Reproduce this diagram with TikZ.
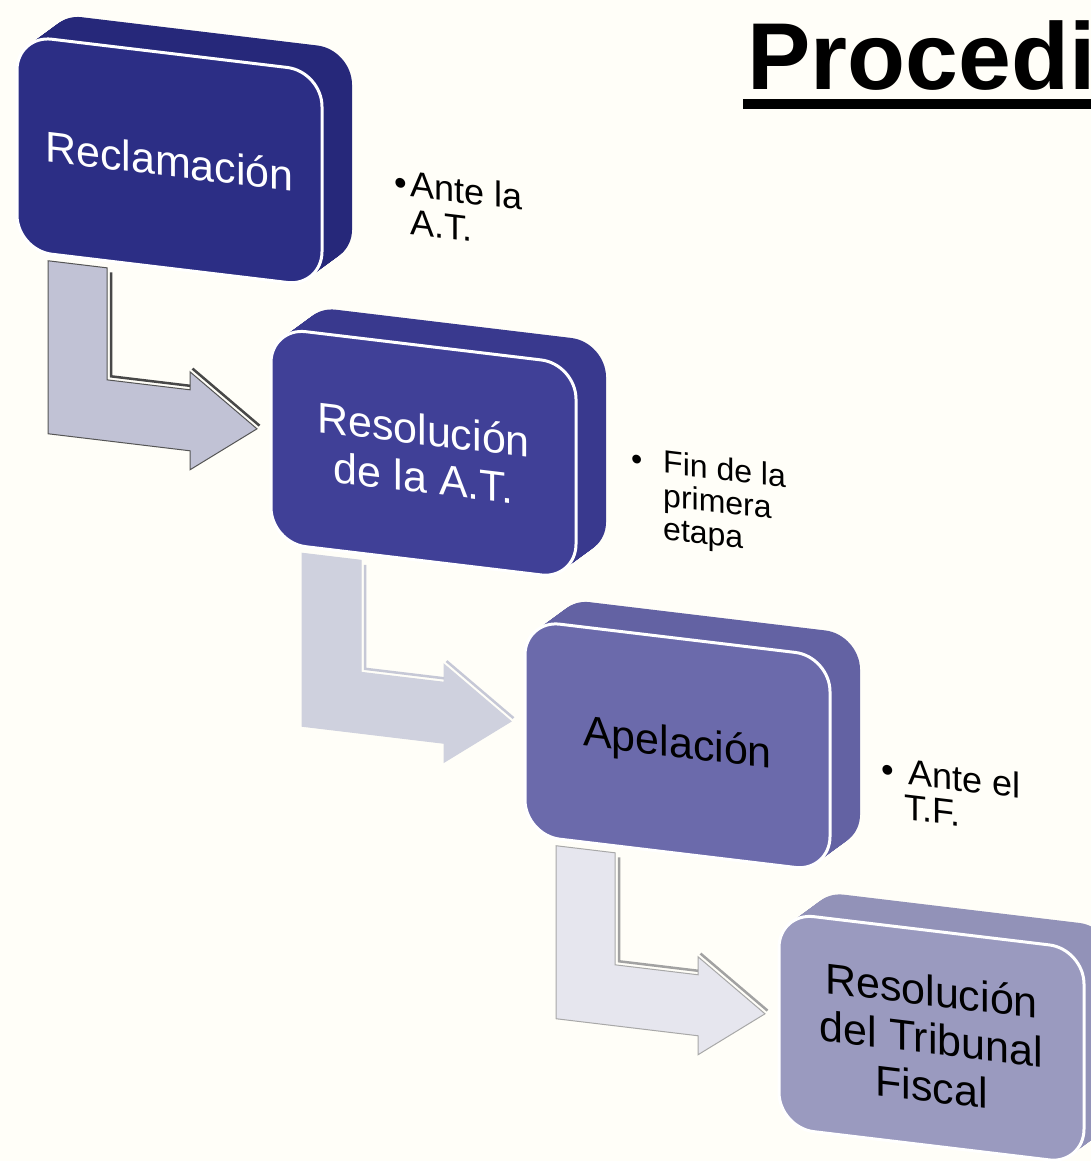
\documentclass[tikz,border=0pt]{standalone}
\usepackage{fontspec}
\setmainfont{Liberation Sans}
\definecolor{bg}{HTML}{FFFEF8}
\definecolor{f1}{HTML}{2C2E85}
\definecolor{s1}{HTML}{26287A}
\definecolor{f2}{HTML}{404097}
\definecolor{s2}{HTML}{39398E}
\definecolor{f3}{HTML}{6B6AAB}
\definecolor{s3}{HTML}{6362A3}
\definecolor{f4}{HTML}{9A9ABF}
\definecolor{s4}{HTML}{9292B8}
\definecolor{ar1}{HTML}{C1C2D5}
\definecolor{ar1o}{HTML}{555555}
\definecolor{ar1s}{HTML}{484848}
\definecolor{ar2}{HTML}{CFD1DE}
\definecolor{ar2s}{HTML}{C6C8D6}
\definecolor{ar3}{HTML}{E6E6EE}
\definecolor{ar3o}{HTML}{A8A8A8}
\definecolor{ar3s}{HTML}{A2A2A2}
\begin{document}
\begin{tikzpicture}[x=1pt,y=-1pt,
  face/.style={draw=white, line width=3pt, rounded corners=35pt,
    minimum width=305pt, minimum height=215pt, inner sep=0pt,
    align=center, font=\fontsize{43}{45}\selectfont, transform shape},
  sidelabel/.style={inner sep=0pt, anchor=base west, transform shape},
  shadowline/.style={line width=2.5pt}]
\useasboundingbox (0,0) rectangle (1091,1161);
\clip (0,0) rectangle (1091,1161);
\fill[bg] (0,0) rectangle (1091,1161);
\begin{scope}[yslant=-0.12]
  % bent arrows (drawn first, boxes cover their tails)
  \foreach \X/\Y/\fc/\oc/\sc [count=\i] in {17/33/ar1/ar1o/ar1s, 271/295/ar2/ar2/ar2s, 525/557/ar3/ar3o/ar3s} {
    \coordinate (t\i) at ({\X+60},{\Y+222});
    \coordinate (h\i) at ({\X+240},{\Y+365});
    \filldraw[fill=\fc, draw=\oc, line width=1pt]
      ({\X+31},{\Y+222}) -- ({\X+90},{\Y+222}) -- ({\X+90},{\Y+334})
      -- ({\X+173},{\Y+334}) -- ({\X+173},{\Y+316}) -- (h\i)
      -- ({\X+173},{\Y+414}) -- ({\X+173},{\Y+395}) -- ({\X+31},{\Y+395}) -- cycle;
    \draw[\sc, shadowline] ({\X+94},{\Y+226}) -- ({\X+94},{\Y+330}) -- ({\X+173},{\Y+330});
    \draw[\sc, shadowline] ({\X+175.5},{\Y+312.5}) -- ({\X+242.5},{\Y+361.5});
  }
  % 3D boxes
  \foreach \X/\Y/\fc/\sc/\tc/\txt [count=\i] in {
      17/33/f1/s1/white/{Reclamación},
      271/295/f2/s2/white/{Resolución\\[3pt]de la A.T.},
      525/557/f3/s3/black/{\raisebox{-6pt}{Apelación}},
      779/819/f4/s4/black/{Resolución\\[3pt]del Tribunal\\[3pt]Fiscal}} {
    \foreach \t in {1,...,30} {
      \fill[\sc, rounded corners=35pt] ({\X+\t},{\Y-0.853*\t}) rectangle ++(305,215);
    }
    \node[face, fill=\fc, text=\tc] (b\i) at ({\X+152.5},{\Y+107.5}) {\txt};
  }
  % side labels
  \node[sidelabel, font=\fontsize{36}{38}\selectfont] (l1) at (410,147.5)
    {\begin{tabular}[t]{@{}l@{}}\llap{•\hspace{3pt}}Ante la\\A.T.\end{tabular}};
  \node[sidelabel, font=\fontsize{32}{33}\selectfont] (l2) at (663,393.4)
    {\begin{tabular}[t]{@{}l@{}}\llap{•\hspace{21pt}}Fin de la\\primera\\etapa\end{tabular}};
  \node[sidelabel, font=\fontsize{36}{35}\selectfont] (l3) at (904,675.8)
    {\begin{tabular}[t]{@{}l@{}}\llap{•\hspace{10pt}}\hspace*{4pt}Ante el\\T.F.\end{tabular}};
\end{scope}
% title
\node[anchor=base west, inner sep=0pt, font=\bfseries\fontsize{95}{95}\selectfont] (title) at (747,90) {Procedi};
\fill (743,99) rectangle (1091,109);
\end{tikzpicture}
\end{document}
